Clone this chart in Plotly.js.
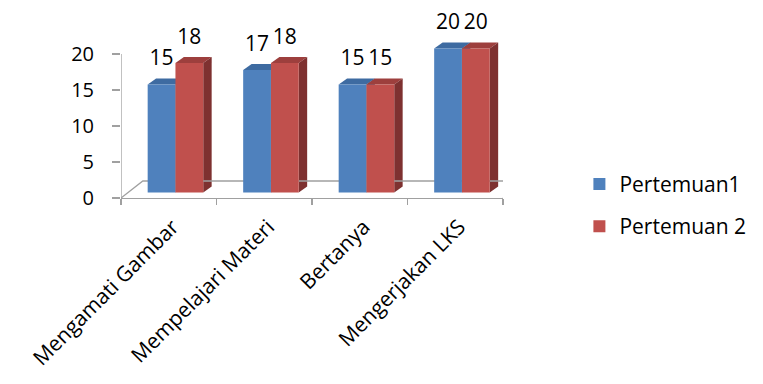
<!DOCTYPE html>
<html>
<head>
<meta charset="utf-8">
<script src="https://cdn.plot.ly/plotly-3.0.1.min.js"></script>
<style>html,body{margin:0;padding:0;background:#fff;}#chart{width:763px;height:384px;}</style>
</head>
<body>
<div id="chart"></div>
<script>
// ---- data ----
const categories = ["Mengamati Gambar", "Mempelajari Materi", "Bertanya", "Mengerjakan LKS"];
const seriesNames = ["Pertemuan1", "Pertemuan 2"];
const pertemuan1 = [15, 17, 15, 20];
const pertemuan2 = [18, 18, 15, 20];
const yTicks = [0, 5, 10, 15, 20];

// ---- styling / geometry ----
const W = 763, H = 384;
const yRange = [0, 25];          // headroom above 20 for labels / 3D tops
const yAxisTop = 20;             // visible axis line ends here
const M = {l: 121, r: 257, t: 18, b: 186};
const plotW = W - M.l - M.r, plotH = H - M.t - M.b;
const xRange = [-0.5, categories.length - 0.5];
const pxPerX = plotW / (xRange[1] - xRange[0]);
const pxPerY = plotH / (yRange[1] - yRange[0]);
// 3D offsets in pixels
const floorDX = 22, floorDY = 17;     // floor depth
const barDX = 8.5, barDY = 6;         // bar depth
const frontDX = (floorDX - barDX) / 2, frontDY = (floorDY - barDY) / 2;
const offX = frontDX / pxPerX, offY = frontDY / pxPerY;
const bdx = barDX / pxPerX, bdy = barDY / pxPerY;
const fdx = floorDX / pxPerX, fdy = floorDY / pxPerY;
const barW = 28 / pxPerX;

const colFront = ["#4F81BD", "#C0504D"];
const colTop = ["#3E6BA1", "#9D3F3D"];
const colSide = ["#345A88", "#7E3130"];
const gray = "#A0A0A0";
const font = "Open Sans, Noto Sans, sans-serif";

const xs = categories.map((c, i) => i);
const boundaries = xs.map(i => i - 0.5).concat([xs.length - 0.5]);
const series = [pertemuan1, pertemuan2];
const traces = [];
const shapes = [];

series.forEach((vals, s) => {
  const off = (s === 0 ? -barW : 0) + offX;
  traces.push({
    type: "bar", name: seriesNames[s], x: xs, y: vals, base: offY,
    width: barW, offset: off,
    marker: {color: colFront[s], line: {width: 0}},
    legendgroup: "g" + s, hoverinfo: "skip"
  });
  traces.push({
    type: "scatter", mode: "text", x: xs.map(x => x + off + barW / 2),
    y: vals.map(v => v + offY + bdy + 1.1), text: vals.map(String),
    textposition: "top center",
    textfont: {family: font, size: 21, color: "#000"},
    showlegend: false, cliponaxis: false, hoverinfo: "skip"
  });
  vals.forEach((v, i) => {
    const xl = i + off, xr = xl + barW, y0 = offY, y1 = v + offY;
    shapes.push({type: "path", xref: "x", yref: "y", layer: "below",
      path: `M${xl},${y1} L${xr},${y1} L${xr + bdx},${y1 + bdy} L${xl + bdx},${y1 + bdy} Z`,
      fillcolor: colTop[s], line: {width: 0}});
    shapes.push({type: "path", xref: "x", yref: "y", layer: "below",
      path: `M${xr},${y0} L${xr},${y1} L${xr + bdx},${y1 + bdy} L${xr + bdx},${y0 + bdy} Z`,
      fillcolor: colSide[s], line: {width: 0}});
  });
});

// floor outline (back and sides; front edge is the x axis line)
shapes.push({type: "path", xref: "x", yref: "y", layer: "below",
  path: `M${xRange[0]},${yRange[0]} L${xRange[0] + fdx},${yRange[0] + fdy} L${xRange[1] + fdx},${yRange[0] + fdy} L${xRange[1]},${yRange[0]}`,
  line: {color: gray, width: 1.3}});
// vertical value axis line (0..20)
shapes.push({type: "line", xref: "x", yref: "y", layer: "above",
  x0: xRange[0], x1: xRange[0], y0: yRange[0], y1: yAxisTop,
  line: {color: gray, width: 1.3}});

const layout = {
  width: W, height: H, margin: M,
  paper_bgcolor: "#fff", plot_bgcolor: "rgba(0,0,0,0)",
  font: {family: font, color: "#000"},
  showlegend: true, barmode: "overlay",
  xaxis: {range: xRange, tickmode: "array", tickvals: xs, ticktext: categories, ticks: "",
    minor: {tickmode: "array", tickvals: boundaries, ticks: "outside", ticklen: 6, tickcolor: gray, tickwidth: 1.3, showgrid: false},
    showline: true, linecolor: gray, linewidth: 1.3, showgrid: false, zeroline: false,
    ticklabelstandoff: 7, ticklabelshift: 4,
    tickangle: -45, tickfont: {family: font, size: 21, color: "#000"}, automargin: false, fixedrange: true},
  yaxis: {range: yRange, tickmode: "array", tickvals: yTicks, ticks: "outside", ticklen: 8, tickcolor: gray, tickwidth: 1.3,
    showline: false, showgrid: false, zeroline: false,
    ticklabelstandoff: 14, tickfont: {family: font, size: 20, color: "#000"}, automargin: false, fixedrange: true},
  legend: {x: 1.2, xanchor: "left", y: 0.19, yanchor: "top", tracegroupgap: 12,
    font: {family: font, size: 21, color: "#000"}, bgcolor: "rgba(0,0,0,0)"},
  shapes: shapes
};

Plotly.newPlot("chart", traces, layout, {displayModeBar: false, staticPlot: true});
</script>
</body>
</html>
